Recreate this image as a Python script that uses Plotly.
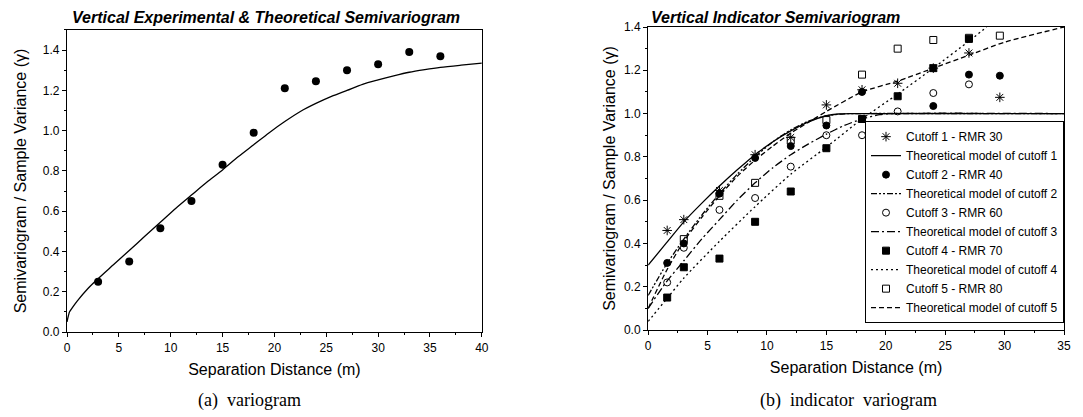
import plotly.graph_objects as go

# ---------------- Left chart: experimental & theoretical semivariogram ----------------
exp_x = [3, 6, 9, 12, 15, 18, 21, 24, 27, 30, 33, 36]
exp_y = [0.25, 0.35, 0.515, 0.65, 0.83, 0.99, 1.21, 1.245, 1.30, 1.33, 1.39, 1.37]

theo_x = [0, 0.25, 0.5, 1, 2, 3, 4.5, 6, 7.5, 9, 10.5, 12, 13.5, 15, 16.5, 18, 19.5,
          21, 22.5, 24, 25.5, 27, 28.5, 30, 31.5, 33, 34.5, 36, 38, 40]
theo_y = [0.05, 0.10, 0.12, 0.155, 0.215, 0.265, 0.335, 0.405, 0.475, 0.545, 0.615, 0.68,
          0.745, 0.805, 0.87, 0.93, 0.99, 1.045, 1.095, 1.135, 1.17, 1.20, 1.23, 1.252,
          1.272, 1.29, 1.303, 1.314, 1.325, 1.335]

# ---------------- Right chart: indicator semivariograms ----------------
c1_x = [1.6, 3, 6, 9, 12, 15, 18, 21, 24, 27, 29.6]
c1_y = [0.46, 0.51, 0.645, 0.81, 0.89, 1.04, 1.11, 1.14, 1.21, 1.28, 1.075]
c2_x = [1.6, 3, 6, 9, 12, 15, 18, 24, 27, 29.6]
c2_y = [0.31, 0.40, 0.63, 0.795, 0.85, 0.945, 1.10, 1.035, 1.18, 1.175]
c3_x = [1.6, 3, 6, 9, 12, 15, 18, 21, 24, 27]
c3_y = [0.22, 0.38, 0.555, 0.61, 0.755, 0.90, 0.90, 1.01, 1.095, 1.135]
c4_x = [1.6, 3, 6, 9, 12, 15, 18, 21, 24, 27]
c4_y = [0.15, 0.29, 0.33, 0.50, 0.64, 0.84, 0.975, 1.08, 1.21, 1.345]
c5_x = [3, 6, 9, 12, 15, 18, 21, 24, 27, 29.6]
c5_y = [0.42, 0.62, 0.68, 0.875, 0.97, 1.18, 1.30, 1.34, 1.35, 1.36]

m1_x = [0, 1.5, 3, 4.5, 6, 7.5, 9, 10.5, 12, 13.5, 15, 16, 17, 35]
m1_y = [0.30, 0.40, 0.50, 0.585, 0.665, 0.74, 0.81, 0.87, 0.92, 0.962, 0.99, 0.998, 1.0, 1.0]
m2_x = [0, 1.5, 3, 4.5, 6, 7.5, 9, 10.5, 12, 13.5, 15, 16.5, 17.5, 35]
m2_y = [0.16, 0.30, 0.42, 0.53, 0.63, 0.72, 0.80, 0.87, 0.925, 0.965, 0.99, 0.999, 1.0, 1.0]
m3_x = [0, 1.5, 3, 4.5, 6, 7.5, 9, 10.5, 12, 13.5, 15, 16.5, 18, 19.5, 20.5, 35]
m3_y = [0.10, 0.22, 0.32, 0.42, 0.51, 0.60, 0.68, 0.75, 0.81, 0.86, 0.905, 0.945, 0.975, 0.995, 1.0, 1.0]
m4_x = [0, 1.5, 3, 6, 9, 12, 15, 18, 21, 24, 27, 28.5]
m4_y = [0.04, 0.14, 0.24, 0.41, 0.57, 0.72, 0.845, 0.975, 1.09, 1.21, 1.335, 1.40]
m5_x = [0, 1.5, 3, 4.5, 6, 7.5, 9, 10.5, 12, 13.5, 15, 18, 21, 24, 27, 30, 35]
m5_y = [0.10, 0.27, 0.41, 0.52, 0.62, 0.71, 0.785, 0.85, 0.91, 0.96, 1.01, 1.10, 1.15,
        1.21, 1.27, 1.33, 1.40]

FONT = "Arial, Liberation Sans, sans-serif"
SERIF = "Liberation Serif, Times New Roman, serif"
BLACK = "#000000"

fig = go.Figure()

# left chart
fig.add_trace(go.Scatter(x=theo_x, y=theo_y, mode="lines",
                         line=dict(color=BLACK, width=1.3, shape="spline", smoothing=0.8),
                         showlegend=False, xaxis="x", yaxis="y"))
fig.add_trace(go.Scatter(x=exp_x, y=exp_y, mode="markers", marker=dict(color=BLACK, size=8, symbol="circle"),
                         showlegend=False, xaxis="x", yaxis="y"))

# right chart
series = [
    ("Cutoff 1 - RMR 30", c1_x, c1_y, "asterisk-open", "Theoretical model of cutoff 1", m1_x, m1_y, "solid"),
    ("Cutoff 2 - RMR 40", c2_x, c2_y, "circle", "Theoretical model of cutoff 2", m2_x, m2_y, "6px,2px,2px,2px,2px,2px"),
    ("Cutoff 3 - RMR 60", c3_x, c3_y, "circle-open", "Theoretical model of cutoff 3", m3_x, m3_y, "8px,3px,2px,3px"),
    ("Cutoff 4 - RMR 70", c4_x, c4_y, "square", "Theoretical model of cutoff 4", m4_x, m4_y, "2px,3px"),
    ("Cutoff 5 - RMR 80", c5_x, c5_y, "square-open", "Theoretical model of cutoff 5", m5_x, m5_y, "5px,3px"),
]
for name, px, py, sym, mname, mx, my, dash in series:
    fig.add_trace(go.Scatter(x=px, y=py, mode="markers", name=name,
                             marker=dict(color=BLACK, size=7 if "asterisk" not in sym else 8, symbol=sym,
                                         line=dict(color=BLACK, width=1)),
                             xaxis="x2", yaxis="y2"))
    fig.add_trace(go.Scatter(x=mx, y=my, mode="lines", name=mname,
                             line=dict(color=BLACK, width=1.3, dash=dash, shape="spline", smoothing=0.6),
                             xaxis="x2", yaxis="y2"))

# The page adds an 8px body margin, so the figure is drawn 8px right/down.
OFF = 8
W, H = 1083 - OFF, 417 - OFF
# plot frame in page pixels: x 61..1068, y 22..332
L, R, T, B = 61 - OFF, 1083 - 1068, 22 - OFF, 417 - 332
pw, ph = W - L - R, H - T - B


def px2x(p):  # page pixel -> paper x
    return (p - OFF - L) / pw


def py2y(p):  # page pixel -> paper y
    return (H - B - (p - OFF)) / ph


axis_common = dict(showline=True, linecolor=BLACK, linewidth=1.3, mirror=True, ticks="outside",
                   ticklen=4, tickwidth=1, tickcolor=BLACK, showgrid=False, zeroline=False,
                   tickfont=dict(family=FONT, size=12, color=BLACK))
title_font = dict(family=FONT, size=16, color=BLACK)

fig.update_layout(
    width=W, height=H,
    margin=dict(l=L, r=R, t=T, b=B),
    paper_bgcolor="white", plot_bgcolor="white",
    font=dict(family=FONT, color=BLACK),
    xaxis=dict(domain=[0, px2x(480)], range=[0, 40], dtick=5, anchor="y",
               minor=dict(ticks="outside", ticklen=2, dtick=2.5, tickcolor=BLACK),
               title=dict(text="Separation Distance (m)", font=title_font, standoff=10),
               **axis_common),
    yaxis=dict(domain=[0, py2y(25)], range=[0, 1.5], dtick=0.2, anchor="x", tickformat=".1f",
               minor=dict(ticks="outside", ticklen=2, dtick=0.1, tickcolor=BLACK),
               title=dict(text="Semivariogram / Sample Variance (γ)", font=title_font, standoff=12),
               **axis_common),
    xaxis2=dict(domain=[px2x(648), 1], range=[0, 35], dtick=5, anchor="y2",
                minor=dict(ticks="outside", ticklen=2, dtick=2.5, tickcolor=BLACK),
                title=dict(text="Separation Distance (m)", font=title_font, standoff=10),
                **axis_common),
    yaxis2=dict(domain=[py2y(330), 1], range=[0, 1.4], dtick=0.2, anchor="x2", tickformat=".1f",
                minor=dict(ticks="outside", ticklen=2, dtick=0.1, tickcolor=BLACK),
                title=dict(text="Semivariogram / Sample Variance (γ)", font=title_font, standoff=4),
                **axis_common),
    legend=dict(x=1, xanchor="right", y=py2y(323), yanchor="bottom", bgcolor="white",
                bordercolor=BLACK, borderwidth=1, font=dict(family=FONT, size=12, color=BLACK),
                tracegroupgap=0, itemwidth=30),
    annotations=[
        dict(text="<b><i>Vertical Experimental &amp; Theoretical Semivariogram</i></b>", x=px2x(64), y=py2y(12),
             xref="paper", yref="paper", xanchor="left", yanchor="middle", showarrow=False,
             font=dict(family=FONT, size=16, color=BLACK)),
        dict(text="<b><i>Vertical Indicator Semivariogram</i></b>", x=px2x(649), y=py2y(12),
             xref="paper", yref="paper", xanchor="left", yanchor="middle", showarrow=False,
             font=dict(family=FONT, size=16, color=BLACK)),
        dict(text="(a)  variogram", x=px2x(245), y=py2y(402), xref="paper", yref="paper",
             xanchor="center", yanchor="middle", showarrow=False,
             font=dict(family=SERIF, size=18, color=BLACK)),
        dict(text="(b)  indicator  variogram", x=px2x(850), y=py2y(402), xref="paper", yref="paper",
             xanchor="center", yanchor="middle", showarrow=False,
             font=dict(family=SERIF, size=18, color=BLACK)),
    ],
)

fig.write_html("out.html")
